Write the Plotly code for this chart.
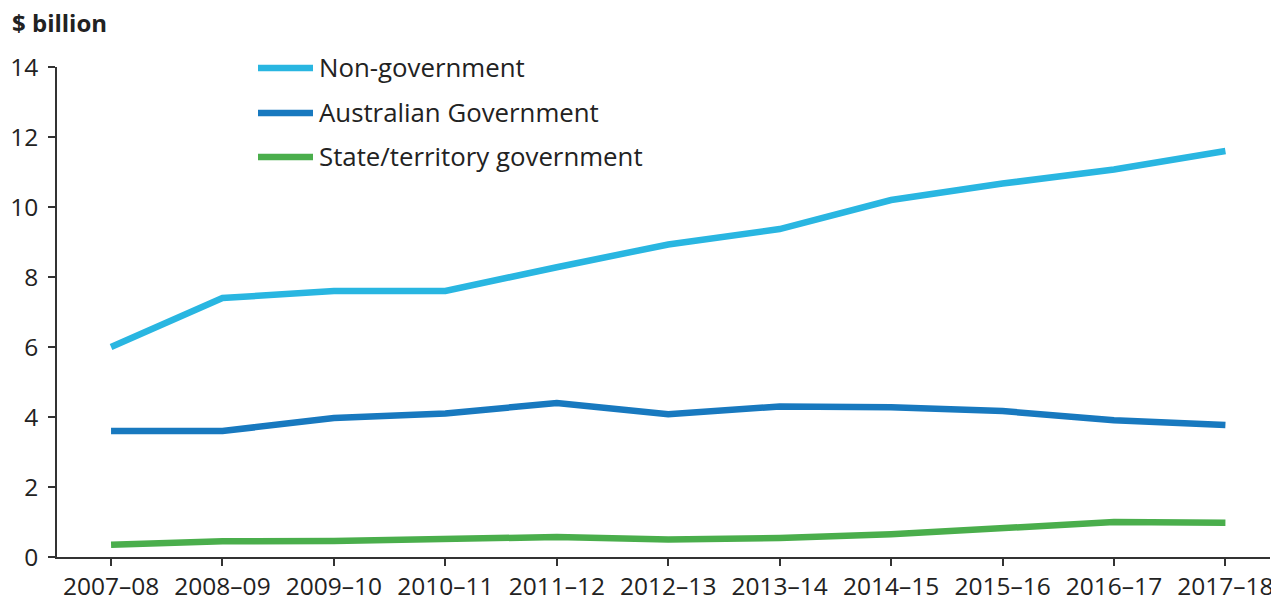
import plotly.graph_objects as go

years = ["2007–08", "2008–09", "2009–10", "2010–11", "2011–12", "2012–13",
         "2013–14", "2014–15", "2015–16", "2016–17", "2017–18"]
non_gov = [6.0, 7.4, 7.6, 7.6, 8.28, 8.93, 9.37, 10.2, 10.67, 11.07, 11.6]
aus_gov = [3.6, 3.6, 3.97, 4.1, 4.4, 4.08, 4.3, 4.28, 4.17, 3.91, 3.77]
state_gov = [0.35, 0.45, 0.46, 0.53, 0.57, 0.5, 0.54, 0.65, 0.83, 1.0, 0.98]

series_names = ["Non-government", "Australian Government", "State/territory government"]
series_values = [non_gov, aus_gov, state_gov]
colors = ["#29b6e1", "#1879bf", "#4aae4c"]

FONT = "Open Sans"
L, R, T, B = 57, 1, 67, 43
W, H = 1271, 600
pw, ph = W - L - R, H - T - B

fig = go.Figure()
for name, vals, col in zip(series_names, series_values, colors):
    fig.add_trace(go.Scatter(x=years, y=vals, mode="lines", name=name,
                             line=dict(color=col, width=6.5), showlegend=False))

def px_x(px):
    return (px - L) / pw

def px_y(py):
    return (H - B - py) / ph

shapes = []
annotations = []
leg_y = [68, 113, 157]
for name, col, yy in zip(series_names, colors, leg_y):
    shapes.append(dict(type="line", xref="paper", yref="paper",
                       x0=px_x(258), x1=px_x(313), y0=px_y(yy), y1=px_y(yy),
                       line=dict(color=col, width=6.5)))
    annotations.append(dict(text=name, xref="paper", yref="paper",
                            x=px_x(317), y=px_y(yy - 1), xanchor="left", yanchor="middle",
                            showarrow=False, font=dict(family=FONT, size=25.8, color="#222222")))

annotations.append(dict(text="<b>$ billion</b>", xref="paper", yref="paper",
                        x=px_x(10), y=px_y(22), xanchor="left", yanchor="middle",
                        showarrow=False, font=dict(family=FONT, size=24, color="#222222")))

fig.update_layout(
    width=W, height=H,
    margin=dict(l=L, r=R, t=T, b=B, pad=0, autoexpand=False),
    paper_bgcolor="white", plot_bgcolor="white",
    font=dict(family=FONT, size=24.5, color="#222222"),
    shapes=shapes, annotations=annotations,
    xaxis=dict(type="category", range=[-0.485, 10.4], showgrid=False, zeroline=False,
               automargin=False,
               showline=True, linecolor="#333333", linewidth=1.5,
               ticks="outside", ticklen=7, tickwidth=1.5, tickcolor="#333333",
               tickfont=dict(family=FONT, size=24.5, color="#222222")),
    yaxis=dict(range=[0, 14], dtick=2, showgrid=False, zeroline=False,
               automargin=False,
               showline=True, linecolor="#333333", linewidth=1.5,
               ticks="outside", ticklen=7, tickwidth=1.5, tickcolor="#333333",
               ticklabelstandoff=5,
               tickfont=dict(family=FONT, size=24.5, color="#222222")),
)

fig.write_html("out.html", config={"displayModeBar": False},
               post_script="document.body.style.margin='0';document.body.style.overflow='hidden';")
